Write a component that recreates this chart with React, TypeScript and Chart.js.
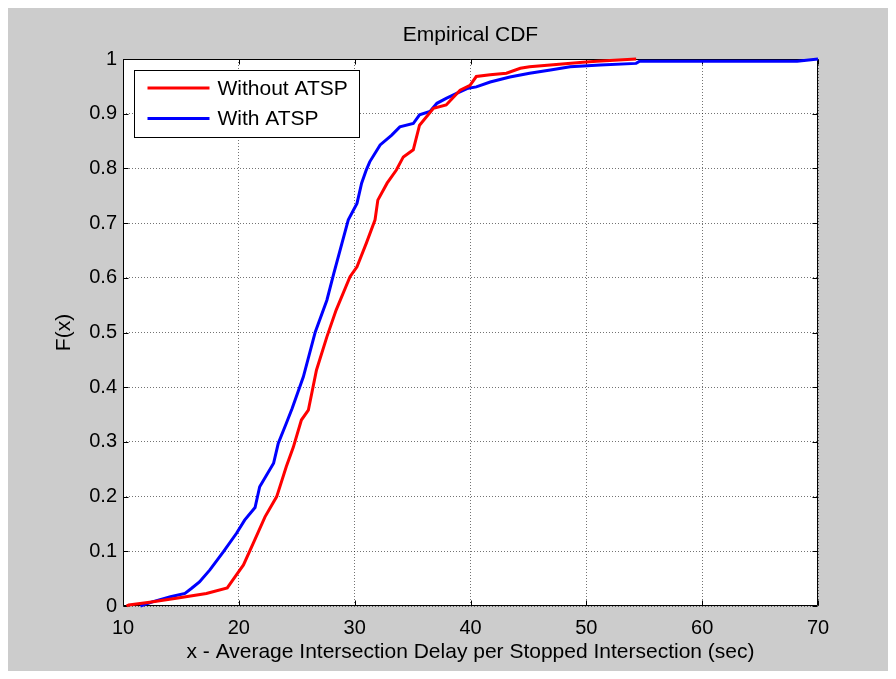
import React, { useEffect, useRef } from "react";
import { Chart, registerables } from "chart.js";

Chart.register(...registerables);

const titleText = "Empirical CDF";
const xTitle = "x - Average Intersection Delay per Stopped Intersection (sec)";
const yTitle = "F(x)";
const seriesNames = ["Without ATSP", "With ATSP"];
const seriesColors = ["#ff0000", "#0000ff"];

const xMin = 10;
const xMax = 70;
const xStep = 10;
const yMin = 0;
const yMax = 1;
const yStep = 0.1;

const redX = [10.3, 10.5, 12.3, 14.6, 17.2, 19.0, 19.7, 20.4, 21.25, 22.26, 23.27, 24.1, 24.7, 25.4, 26.0, 26.7, 27.6, 28.4, 29.6, 30.2, 31.0, 31.76, 32.0, 32.8, 33.6, 34.2, 35.06, 35.6, 36.8, 37.9, 39.1, 39.96, 40.5, 41.7, 43.1, 44.3, 45.1, 49.7, 50.9, 54.3];
const redY = [0, 0.002, 0.007, 0.014, 0.023, 0.033, 0.054, 0.075, 0.115, 0.163, 0.2, 0.255, 0.29, 0.34, 0.358, 0.431, 0.492, 0.541, 0.602, 0.62, 0.663, 0.706, 0.742, 0.773, 0.797, 0.821, 0.834, 0.879, 0.91, 0.916, 0.943, 0.952, 0.968, 0.971, 0.974, 0.983, 0.986, 0.994, 0.996, 1.0];

const blueX = [11.5, 12.6, 14.1, 15.35, 15.9, 16.6, 17.5, 18.66, 19.8, 20.5, 21.4, 21.8, 23.0, 23.4, 24.1, 24.6, 25.57, 26.6, 27.6, 28.2, 28.9, 29.45, 30.2, 30.6, 31.0, 31.3, 32.2, 33.2, 33.9, 35.06, 35.6, 36.5, 37.1, 37.9, 38.8, 39.7, 40.5, 41.7, 43.4, 45.1, 46.9, 48.6, 51.2, 54.3, 54.6, 68.2, 70];
const blueY = [0, 0.008, 0.017, 0.023, 0.032, 0.044, 0.066, 0.099, 0.133, 0.157, 0.18, 0.218, 0.261, 0.297, 0.334, 0.361, 0.419, 0.501, 0.559, 0.608, 0.663, 0.706, 0.736, 0.773, 0.797, 0.812, 0.843, 0.861, 0.876, 0.882, 0.898, 0.904, 0.919, 0.928, 0.937, 0.946, 0.949, 0.958, 0.967, 0.974, 0.98, 0.986, 0.989, 0.992, 0.996, 0.996, 1.0];

const FONT = "'Liberation Sans', Arial, Helvetica, sans-serif";
const TICK_SIZE = 20;
const TEXT_SIZE = 21;

const toPoints = (xs: number[], ys: number[]) => xs.map((x, i) => ({ x, y: ys[i] }));

const matlabPlugin = {
  id: "matlabLook",
  beforeDraw(chart: any) {
    const { ctx, width, height, chartArea: a } = chart;
    ctx.save();
    ctx.fillStyle = "#cccccc";
    ctx.fillRect(0, 0, width, height);
    ctx.fillStyle = "#ffffff";
    ctx.fillRect(a.left, a.top, a.right - a.left, a.bottom - a.top);
    ctx.restore();
  },
  beforeDatasetsDraw(chart: any) {
    const { ctx, chartArea: a, scales } = chart;
    const L = Math.round(a.left) + 0.5;
    const R = Math.round(a.right) - 0.5;
    const T = Math.round(a.top) + 0.5;
    const B = Math.round(a.bottom) - 0.5;
    const tl = 5;
    ctx.save();
    ctx.strokeStyle = "#000";
    ctx.lineWidth = 1;
    ctx.beginPath();
    ctx.rect(L, T, R - L, B - T);
    scales.x.ticks.forEach((t: any) => {
      const px = Math.round(scales.x.getPixelForValue(t.value)) + 0.5;
      ctx.moveTo(px, B);
      ctx.lineTo(px, B - tl);
      ctx.moveTo(px, T);
      ctx.lineTo(px, T + tl);
    });
    scales.y.ticks.forEach((t: any) => {
      const py = Math.round(scales.y.getPixelForValue(t.value)) + 0.5;
      ctx.moveTo(L, py);
      ctx.lineTo(L + tl, py);
      ctx.moveTo(R, py);
      ctx.lineTo(R - tl, py);
    });
    ctx.stroke();
    ctx.restore();
  },
  afterDatasetsDraw(chart: any) {
    const { ctx, chartArea: a } = chart;
    const bx = Math.round(a.left) + 11.5;
    const by = Math.round(a.top) + 11.5;
    const bw = 225;
    const bh = 67;
    ctx.save();
    ctx.fillStyle = "#fff";
    ctx.fillRect(bx, by, bw, bh);
    ctx.strokeStyle = "#000";
    ctx.lineWidth = 1;
    ctx.strokeRect(bx, by, bw, bh);
    ctx.font = `${TEXT_SIZE}px ${FONT}`;
    ctx.textBaseline = "middle";
    ctx.textAlign = "left";
    chart.data.datasets.forEach((ds: any, i: number) => {
      const cy = by + 17.5 + i * 30.5;
      ctx.strokeStyle = ds.borderColor;
      ctx.lineWidth = 3;
      ctx.beginPath();
      ctx.moveTo(bx + 13, cy);
      ctx.lineTo(bx + 75, cy);
      ctx.stroke();
      ctx.fillStyle = "#000";
      ctx.fillText(ds.label, bx + 83, cy + 1);
    });
    ctx.restore();
  },
};

export default function App() {
  const ref = useRef<HTMLCanvasElement>(null);
  useEffect(() => {
    if (!ref.current) return;
    Chart.defaults.font.family = FONT;
    Chart.defaults.color = "#000";
    const chart = new Chart(ref.current, {
      type: "scatter",
      data: {
        datasets: [
          {
            label: seriesNames[0],
            data: toPoints(redX, redY),
            borderColor: seriesColors[0],
            backgroundColor: seriesColors[0],
            showLine: true,
            borderWidth: 3,
            pointRadius: 0,
            tension: 0,
            clip: false,
          },
          {
            label: seriesNames[1],
            data: toPoints(blueX, blueY),
            borderColor: seriesColors[1],
            backgroundColor: seriesColors[1],
            showLine: true,
            borderWidth: 3,
            pointRadius: 0,
            tension: 0,
            clip: false,
          },
        ],
      },
      options: {
        animation: false,
        responsive: false,
        events: [],
        layout: { padding: { left: 0, right: 70, top: 0, bottom: 0 } },
        plugins: {
          legend: { display: false },
          tooltip: { enabled: false },
          title: {
            display: true,
            text: titleText,
            fullSize: false,
            color: "#000",
            font: { size: TEXT_SIZE, weight: "normal", family: FONT },
            padding: { top: 14.5, bottom: 11.3 },
          },
        },
        scales: {
          x: {
            type: "linear",
            min: xMin,
            max: xMax,
            ticks: { stepSize: xStep, color: "#000", font: { size: TICK_SIZE }, padding: 10, maxRotation: 0 },
            grid: { color: "rgba(0,0,0,0.55)", drawTicks: false, lineWidth: 1 },
            border: { display: false, dash: [1, 2] },
            title: { display: true, text: xTitle, color: "#000", font: { size: TEXT_SIZE }, padding: { top: 0, bottom: 6 } },
            afterFit: (s: any) => {
              s.height = 65;
            },
          },
          y: {
            type: "linear",
            min: yMin,
            max: yMax,
            ticks: {
              stepSize: yStep,
              color: "#000",
              font: { size: TICK_SIZE },
              padding: 6,
              callback: (v: any) => String(Number(Number(v).toFixed(1))),
            },
            grid: { color: "rgba(0,0,0,0.55)", drawTicks: false, lineWidth: 1 },
            border: { display: false, dash: [1, 2] },
            title: { display: true, text: yTitle, color: "#000", font: { size: TEXT_SIZE }, padding: { top: 44, bottom: 0 } },
            afterFit: (s: any) => {
              s.width = 115;
            },
          },
        },
      },
      plugins: [matlabPlugin],
    } as any);
    return () => chart.destroy();
  }, []);
  return (
    <div style={{ width: 880, height: 663 }}>
      <canvas ref={ref} width={880} height={663} style={{ display: "block", width: 880, height: 663 }} />
    </div>
  );
}
